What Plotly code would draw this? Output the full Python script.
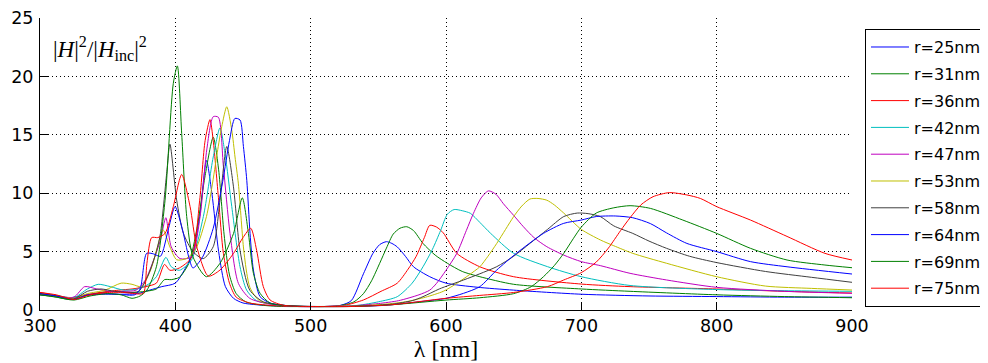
import plotly.graph_objects as go

# ---- data ----
labels = ["r=25nm", "r=31nm", "r=36nm", "r=42nm", "r=47nm",
          "r=53nm", "r=58nm", "r=64nm", "r=69nm", "r=75nm"]

wl_r25 = [300, 310, 322, 330, 345, 360, 372, 381, 390, 400, 408, 413, 418, 423, 427, 432, 437, 443, 450, 460,
          475, 490, 510, 522, 530, 539, 546, 551, 556, 560, 564, 570, 576, 588, 600, 623, 650, 700, 750, 800, 850, 900]
h_r25 = [1.3, 1.2, 1.05, 1.2, 1.35, 1.35, 1.4, 1.7, 2.0, 2.3, 3.7, 4.9, 8.0, 12.8, 10.0, 5.0, 2.0, 1.0, 0.6, 0.45,
         0.35, 0.3, 0.3, 0.4, 0.8, 3.1, 4.85, 5.6, 5.85, 5.7, 5.4, 4.6, 3.7, 2.85, 2.3, 1.95, 1.7, 1.35, 1.2, 1.15, 1.1, 1.1]

wl_r31 = [300, 310, 323, 333, 345, 358, 368, 378, 386, 392, 397, 403, 410, 416, 422, 428, 432, 436, 440, 445,
          452, 465, 480, 500, 520, 532, 539, 545, 551, 556, 561, 566, 571, 576, 583, 592, 601, 612, 625, 650,
          700, 736, 800, 850, 900]
h_r31 = [1.3, 1.15, 0.9, 1.2, 1.5, 1.6, 1.5, 1.6, 1.8, 2.6, 2.6, 2.8, 4.0, 7.0, 11.5, 14.8, 12.0, 6.5, 3.0, 1.4,
         0.7, 0.4, 0.3, 0.3, 0.35, 0.7, 1.4, 2.5, 4.0, 5.3, 6.5, 7.0, 7.13, 6.8, 5.7, 4.7, 4.0, 3.3, 2.85, 2.2,
         1.8, 1.6, 1.3, 1.15, 1.05]

wl_r36 = [300, 310, 323, 333, 345, 358, 368, 378, 386, 392, 396, 403, 412, 418, 422, 425.6, 428, 432, 435.5, 440,
          445, 455, 470, 490, 510, 525, 539, 552, 564, 572, 578, 584, 588, 593, 598, 608, 625, 650, 700, 736,
          800, 850, 900]
h_r36 = [1.5, 1.3, 1.0, 1.3, 1.5, 1.7, 1.8, 2.0, 2.3, 3.9, 3.4, 3.6, 4.5, 9.4, 14.5, 16.3, 14.5, 9.4, 4.85, 2.3,
         1.1, 0.6, 0.4, 0.3, 0.3, 0.4, 0.86, 1.6, 2.3, 3.5, 4.6, 6.2, 7.25, 7.1, 6.6, 4.85, 3.7, 2.85, 2.22, 2.0,
         1.8, 1.6, 1.45]

wl_r42 = [300, 312, 325, 335, 343, 352, 362, 372, 380, 386, 393, 397, 403, 412, 420.7, 428, 433, 436.7, 441.7, 447.8,
          452.7, 460, 475, 495, 515, 535, 550, 564, 575, 583, 590, 596, 601, 606, 612, 618, 625, 633, 650, 675,
          700, 736, 800, 850, 900]
h_r42 = [1.4, 1.25, 1.05, 1.8, 2.2, 2.0, 1.7, 1.8, 2.2, 2.85, 4.5, 3.7, 3.4, 4.3, 8.0, 13.1, 15.6, 13.4, 8.85, 3.7,
         1.7, 0.8, 0.45, 0.3, 0.3, 0.4, 0.7, 1.14, 2.3, 3.7, 5.2, 6.8, 8.2, 8.6, 8.5, 8.28, 7.5, 6.56, 4.85, 3.71,
         2.85, 2.1, 1.75, 1.65, 1.6]

wl_r47 = [300, 312, 325, 333, 342, 352, 362, 371, 378, 384, 389, 393, 397, 403.5, 412, 418.3, 423.2, 428, 431.8, 435.5,
          440.4, 446.6, 455, 470, 490, 510, 530, 550, 565, 580, 588, 593, 600, 608, 615, 620.3, 626, 631.4, 637, 642.4,
          650, 657.2, 665, 674.5, 687, 700, 714, 736, 763, 800, 850, 900]
h_r47 = [1.35, 1.2, 1.1, 2.0, 1.8, 1.6, 1.6, 1.7, 2.6, 4.3, 6.0, 7.9, 5.4, 4.4, 4.56, 8.0, 13.7, 16.55, 16.5, 12.3,
         6.56, 2.28, 1.0, 0.5, 0.3, 0.3, 0.35, 0.55, 0.8, 1.3, 1.7, 2.28, 3.4, 4.85, 6.8, 8.28, 9.6, 10.2, 9.9, 9.1,
         8.1, 7.13, 6.2, 5.42, 4.7, 4.14, 3.8, 3.14, 2.57, 1.94, 1.6, 1.43]

wl_r53 = [300, 312, 325, 335, 348, 360, 368, 375, 382, 387, 391, 396, 401, 408, 415, 423, 427, 431, 434.3, 438,
          441.7, 444.1, 446.6, 450.3, 452.8, 455.2, 462, 475, 495, 515, 535, 555, 570, 585, 598, 608, 617, 625, 631, 637.5,
          644, 650, 656, 662, 668, 674.5, 680, 687, 700, 714, 724, 738, 763, 800, 836, 870, 900]
h_r53 = [1.4, 1.2, 1.0, 1.4, 1.7, 2.3, 2.2, 2.0, 3.5, 5.5, 6.85, 5.4, 4.3, 4.4, 5.2, 8.0, 10.5, 13.5, 15.7, 17.4,
         15.4, 13.1, 10.8, 5.4, 3.14, 1.9, 0.8, 0.45, 0.3, 0.3, 0.35, 0.5, 0.7, 1.1, 1.6, 2.28, 3.0, 3.7, 4.6, 5.7,
         6.9, 8.0, 8.9, 9.5, 9.55, 9.4, 9.0, 8.3, 6.9, 6.0, 5.5, 4.85, 4.0, 2.85, 2.05, 1.85, 1.71]

wl_r58 = [300, 312, 325, 335, 345, 355, 365, 373, 380, 386, 389, 393.6, 396, 401, 406, 413, 420.6, 428, 433, 438,
          442.9, 447.8, 455, 465, 480, 500, 520, 540, 560, 575, 583, 595, 613, 625, 637.5, 650, 662, 675, 687, 697,
          705, 714, 724, 738, 750, 763, 780, 800, 836, 870, 900]
h_r58 = [1.4, 1.2, 0.95, 1.6, 1.8, 1.6, 1.5, 1.6, 3.0, 5.0, 6.56, 11.7, 14.2, 9.4, 6.56, 5.0, 4.4, 5.42, 9.4, 14.0,
         10.6, 5.1, 1.7, 0.7, 0.4, 0.3, 0.3, 0.35, 0.5, 0.8, 1.14, 1.8, 2.57, 3.1, 3.71, 4.6, 5.7, 6.9, 8.0, 8.3,
         8.25, 8.0, 7.2, 6.56, 5.9, 5.28, 4.6, 4.06, 3.3, 2.8, 2.37]

wl_r64 = [300, 312, 325, 335, 350, 362, 370, 374, 378.8, 384, 389, 395, 399.8, 405, 410, 413, 420, 428, 435, 440,
          444, 447.8, 450.3, 452.8, 455.2, 457.7, 462.6, 470, 485, 505, 530, 555, 580, 600, 613, 625, 637.5, 652, 672, 687,
          700, 711, 725, 738, 751, 763, 778, 800, 825, 852, 900]
h_r64 = [1.4, 1.2, 0.9, 1.3, 1.4, 1.3, 1.3, 1.8, 4.85, 4.8, 4.6, 7.0, 8.85, 7.0, 4.5, 3.6, 4.5, 7.0, 11.0, 14.5,
         16.4, 16.27, 14.0, 11.1, 6.56, 3.42, 1.14, 0.6, 0.35, 0.3, 0.3, 0.4, 0.7, 1.0, 1.43, 2.0, 3.42, 4.85, 6.56, 7.42,
         7.7, 8.0, 8.05, 7.9, 7.4, 6.6, 5.7, 5.0, 4.14, 3.7, 3.08]

wl_r69 = [300, 312, 325, 337, 350, 360, 368, 374, 379, 386, 392.4, 398.5, 401.5, 404.7, 408.4, 413, 423, 433, 443, 449.5,
          454, 457.7, 462.6, 470, 485, 505, 530, 560, 600, 625, 650, 663, 672, 680, 687, 694, 700, 711, 724, 736,
          751, 775, 800, 825, 852, 880, 900]
h_r69 = [1.3, 1.1, 0.85, 1.2, 1.4, 1.3, 1.0, 1.2, 1.7, 3.7, 9.4, 19.4, 20.9, 15.1, 8.0, 4.56, 2.85, 4.0, 6.56, 9.6,
         6.56, 3.14, 1.43, 0.6, 0.35, 0.3, 0.3, 0.45, 0.85, 1.05, 1.4, 2.0, 2.85, 3.8, 4.85, 6.1, 7.1, 8.3, 8.75, 8.93,
         8.7, 7.7, 6.56, 5.28, 4.28, 3.85, 3.62]

wl_r75 = [300, 312, 325, 337, 350, 362, 370, 376.4, 379, 382.5, 387, 392.4, 398.5, 404.7, 410.9, 415.8, 424.4, 433, 443, 450,
          455.7, 460.1, 465, 470, 480, 500, 530, 560, 600, 625, 650, 675, 687, 700, 711, 720, 729, 736, 744, 753,
          765, 778, 788, 800, 825, 852, 880, 900]
h_r75 = [1.5, 1.3, 0.9, 1.3, 1.5, 1.5, 1.4, 1.43, 4.0, 6.2, 6.2, 6.56, 8.85, 11.6, 8.85, 5.42, 2.9, 3.42, 4.85, 6.2,
         7.0, 5.1, 2.0, 0.86, 0.4, 0.3, 0.3, 0.45, 1.0, 1.25, 1.5, 2.0, 2.57, 3.2, 4.1, 5.3, 6.8, 7.9, 9.0, 9.7,
         10.05, 9.85, 9.55, 8.85, 7.7, 6.3, 4.85, 4.28]

x_ticks = [300, 400, 500, 600, 700, 800, 900]
y_ticks = [0, 5, 10, 15, 20, 25]

# ---- styling ----
colors = ["rgb(0,0,255)", "rgb(0,128,0)", "rgb(255,0,0)", "rgb(0,191,191)", "rgb(191,0,191)",
          "rgb(191,191,0)", "rgb(64,64,64)", "rgb(0,0,255)", "rgb(0,128,0)", "rgb(255,0,0)"]

series = [(wl_r25, h_r25), (wl_r31, h_r31), (wl_r36, h_r36), (wl_r42, h_r42), (wl_r47, h_r47),
          (wl_r53, h_r53), (wl_r58, h_r58), (wl_r64, h_r64), (wl_r69, h_r69), (wl_r75, h_r75)]

fig = go.Figure()
for (wl, h), name, c in zip(series, labels, colors):
    fig.add_trace(go.Scatter(x=wl, y=h, mode="lines", name=name, legendgroup=name,
                             line=dict(color=c, width=1, shape="spline", smoothing=0.7)))

tick_font = dict(family="DejaVu Sans", size=17.5, color="black")
axis_common = dict(showline=True, linecolor="black", linewidth=1, mirror=False,
                   ticks="inside", ticklen=8, tickcolor="black", tickwidth=1,
                   showgrid=True, gridcolor="black", gridwidth=1, griddash="1px,3px",
                   zeroline=False, automargin=False, tickfont=tick_font)

fig.update_xaxes(range=[300, 900], tickvals=x_ticks, ticktext=[str(v) for v in x_ticks],
                 title=dict(text="λ [nm]", font=dict(family="Liberation Serif, Times New Roman", size=24, color="black"),
                            standoff=0),
                 **axis_common)
fig.update_yaxes(range=[0, 25], tickvals=y_ticks, ticktext=[str(v) for v in y_ticks], ticklabelstandoff=2,
                 **axis_common)

fig.add_annotation(xref="paper", yref="paper", x=0.013, y=0.955, xanchor="left", yanchor="top",
                   text="|<i>H</i>|<sup>2</sup>/|<i>H</i><sub>inc</sub>|<sup>2</sup>",
                   showarrow=False,
                   font=dict(family="Liberation Serif, Times New Roman", size=23, color="black"))

# page adds an 8px body margin, so the figure is 8px smaller and shifted margins compensate
fig.update_layout(
    width=980, height=355,
    margin=dict(l=32, r=136, t=10, b=53, autoexpand=False),
    plot_bgcolor="white", paper_bgcolor="white",
    showlegend=True,
    legend=dict(x=1.016, y=0.962, xanchor="left", yanchor="top",
                bordercolor="black", borderwidth=1, bgcolor="white",
                font=dict(family="DejaVu Sans", size=16, color="black"),
                itemwidth=38, tracegroupgap=3),
)

fig.write_html("out.html")
